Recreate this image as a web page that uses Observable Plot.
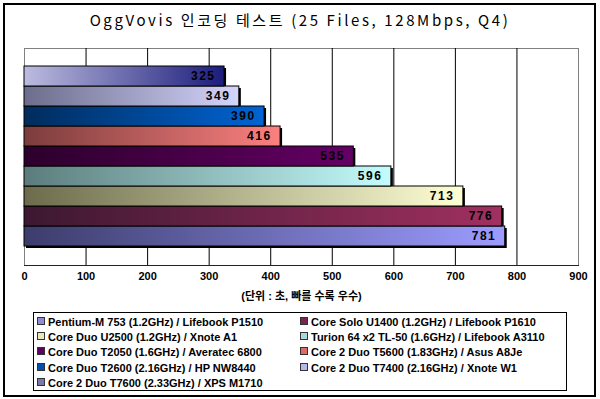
<!DOCTYPE html>
<html>
<head>
<meta charset="utf-8">
<script src="https://cdn.jsdelivr.net/npm/d3@7"></script>
<script src="https://cdn.jsdelivr.net/npm/@observablehq/plot@0.6"></script>
<style>
  html, body { margin: 0; padding: 0; background: #fff; }
  #wrap { position: relative; width: 600px; height: 399px; overflow: hidden; font-family: "Liberation Sans", "Noto Sans CJK KR", sans-serif; }
  #frame { position: absolute; left: 3px; top: 3px; width: 589px; height: 390px; border: 2px solid #000; }
  #title { position: absolute; left: 0; top: 9px; width: 600px; text-align: center; font-size: 15px; letter-spacing: 2.6px; font-family: "Noto Sans CJK KR", sans-serif; color: #000; }
  #chart { position: absolute; left: 0; top: 30px; }
  #legend { position: absolute; left: 33px; top: 312px; width: 534px; height: 79px; border: 1px solid #000; box-sizing: border-box; }
  .item { position: absolute; font-size: 11px; font-weight: bold; white-space: nowrap; line-height: 12px; color: #000; }
  .sw { display: inline-block; width: 6px; height: 6px; border: 1px solid #333; margin-right: 3px; vertical-align: 1px; }
  g[aria-label="text"] text { letter-spacing: 1.5px; }
</style>
</head>
<body>
<svg width="0" height="0" style="position:absolute">
  <defs id="defs"></defs>
</svg>
<div id="wrap">
  <div id="frame"></div>
  <div id="title"></div>
  <div id="chart"></div>
  <div id="legend"></div>
</div>
<script>
const chartTitle = "OggVovis 인코딩 테스트 (25 Files, 128Mbps, Q4)";
const axisTitle = "(단위 : 초, 빠를 수록 우수)";
const systems = [
  "Pentium-M 753 (1.2GHz) / Lifebook P1510",
  "Core Solo U1400 (1.2GHz) / Lifebook P1610",
  "Core Duo U2500 (1.2GHz) / Xnote A1",
  "Turion 64 x2 TL-50 (1.6GHz) / Lifebook A3110",
  "Core Duo T2050 (1.6GHz) / Averatec 6800",
  "Core 2 Duo T5600 (1.83GHz) / Asus A8Je",
  "Core Duo T2600 (2.16GHz) / HP NW8440",
  "Core 2 Duo T7400 (2.16GHz) / Xnote W1",
  "Core 2 Duo T7600 (2.33GHz) / XPS M1710"
];
const seconds = [781, 776, 713, 596, 535, 416, 390, 349, 325];
const xTicks = [0, 100, 200, 300, 400, 500, 600, 700, 800, 900];
// gradient colours (left -> right) and legend swatch colours
const gradLeft  = ["#3c3c6c", "#3c1830", "#6c6c4c", "#5c7c7c", "#2c002c", "#7c3c3c", "#002c5c", "#6c6c8c", "#bcbce0"];
const gradRight = ["#9c9cff", "#a03060", "#ffffd4", "#c4fcfc", "#640064", "#fc8080", "#0064d4", "#d4d4fc", "#1c1c7c"];
const swatch    = ["#8c8cd8", "#7c2450", "#e8e8b8", "#a8d8d8", "#600060", "#e06868", "#0050b0", "#b8b8e8", "#7878b0"];

// gradients
const defs = document.getElementById("defs");
systems.forEach((s, i) => {
  const g = document.createElementNS("http://www.w3.org/2000/svg", "linearGradient");
  g.setAttribute("id", "g" + i);
  g.setAttribute("x1", "0"); g.setAttribute("x2", "1"); g.setAttribute("y1", "0"); g.setAttribute("y2", "0");
  [[0, gradLeft[i]], [1, gradRight[i]]].forEach(([o, c]) => {
    const st = document.createElementNS("http://www.w3.org/2000/svg", "stop");
    st.setAttribute("offset", o); st.setAttribute("stop-color", c);
    g.appendChild(st);
  });
  defs.appendChild(g);
});

const data = systems.map((name, i) => ({name, value: seconds[i], fill: `url(#g${i})`}));
const order = systems.slice().reverse();

document.getElementById("title").textContent = chartTitle;

const chart = Plot.plot({
  width: 600,
  height: 275,
  marginTop: 18,
  marginBottom: 40,
  marginLeft: 24,
  marginRight: 22,
  style: {fontFamily: '"Liberation Sans", "Noto Sans CJK KR", sans-serif', fontSize: "11px", background: "transparent", overflow: "visible"},
  x: {domain: [0, 900], ticks: xTicks, tickSize: 0, tickPadding: 7, tickFormat: d => String(d), label: axisTitle, labelArrow: "none", labelAnchor: "center", labelOffset: 34},
  y: {domain: order, range: [33, 218], padding: 0, axis: null},
  marks: [
    Plot.frame({stroke: "#808080"}),
    Plot.ruleX(xTicks.slice(1, -1), {stroke: "#000"}),
    Plot.frame({anchor: "bottom", stroke: "#222"}),
    Plot.barX(data, {x: "value", y: "name", fill: "#000", dx: 2, dy: 2}),
    Plot.barX(data, {x: "value", y: "name", fill: "fill", stroke: "#000", strokeWidth: 1}),
    Plot.text(data, {x: "value", y: "name", text: d => String(d.value), textAnchor: "end", dx: -9, fontWeight: "bold", fontSize: 12, fill: "#000"})
  ]
});
chart.querySelectorAll('g[aria-label="x-axis tick label"] text, g[aria-label="x-axis label"] text').forEach(t => t.setAttribute("font-weight", "bold"));
chart.querySelectorAll('g[aria-label="x-axis label"] text').forEach(t => { t.textContent = t.textContent.replace(/\s*[→←]\s*/g, ""); });
document.getElementById("chart").appendChild(chart);

// legend
const legend = document.getElementById("legend");
const colX = [3, 266];
systems.forEach((s, i) => {
  const row = Math.floor(i / 2), col = i % 2;
  const el = document.createElement("div");
  el.className = "item";
  el.style.left = colX[col] + "px";
  el.style.top = (3 + row * 15.2) + "px";
  const sw = document.createElement("span");
  sw.className = "sw";
  sw.style.background = swatch[i];
  el.appendChild(sw);
  el.appendChild(document.createTextNode(s));
  legend.appendChild(el);
});
</script>
</body>
</html>
